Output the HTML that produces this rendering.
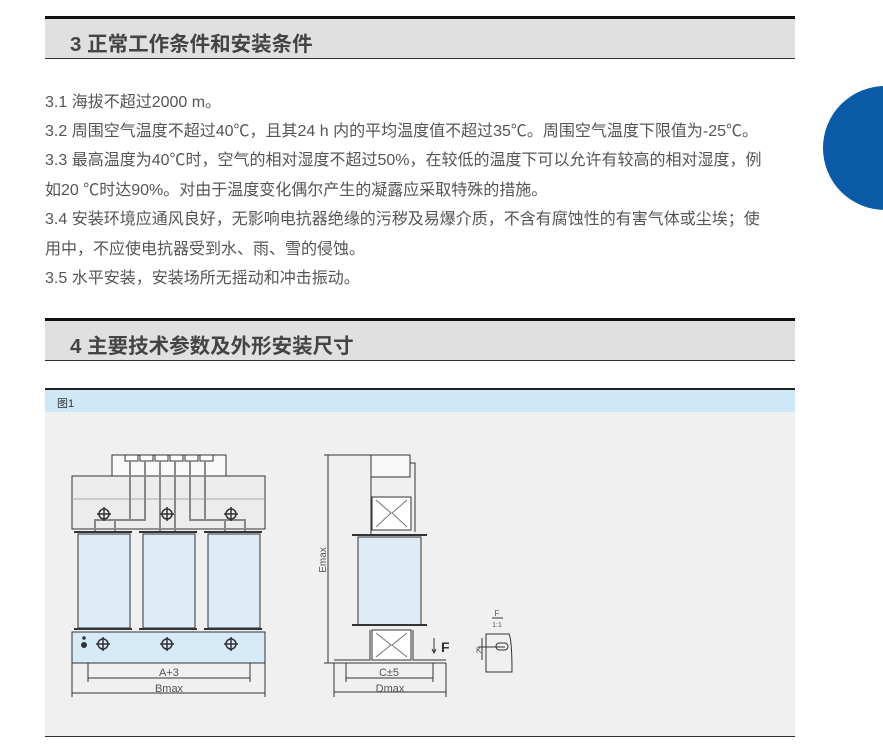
<!DOCTYPE html>
<html><head><meta charset="utf-8"><style>
body{margin:0;width:883px;height:745px;background:#fff;overflow:hidden;position:relative;font-family:"Liberation Sans","Noto Sans CJK SC",sans-serif}
.h{position:absolute;left:45px;width:750px;background:#e0e0e0;border-top:3px solid #111;border-bottom:1px solid #333;box-sizing:border-box}
.h span{position:absolute;left:25px;font-size:20.5px;font-weight:bold;color:#444}
.p{position:absolute;left:45px;font-size:16px;color:#555;white-space:nowrap}
</style></head><body>
<div class="h" style="top:16px;height:43px"><span style="top:8px">3 正常工作条件和安装条件</span></div>
<div class="p" style="top:88px">3.1 海拔不超过2000 m。</div>
<div class="p" style="top:117px">3.2 周围空气温度不超过40℃，且其24 h 内的平均温度值不超过35℃。周围空气温度下限值为-25℃。</div>
<div class="p" style="top:146px">3.3 最高温度为40℃时，空气的相对湿度不超过50%，在较低的温度下可以允许有较高的相对湿度，例</div>
<div class="p" style="top:176px">如20 ℃时达90%。对由于温度变化偶尔产生的凝露应采取特殊的措施。</div>
<div class="p" style="top:205px">3.4 安装环境应通风良好，无影响电抗器绝缘的污秽及易爆介质，不含有腐蚀性的有害气体或尘埃；使</div>
<div class="p" style="top:235px">用中，不应使电抗器受到水、雨、雪的侵蚀。</div>
<div class="p" style="top:264px">3.5 水平安装，安装场所无摇动和冲击振动。</div>
<div class="h" style="top:318px;height:43px"><span style="top:8px">4 主要技术参数及外形安装尺寸</span></div>
<div style="position:absolute;left:823px;top:86px;width:124px;height:124px;border-radius:50%;background:#0b5aa6"></div>
<div style="position:absolute;left:45px;top:388px;width:750px;height:24px;background:#cfe8f7;border-top:2px solid #222;box-sizing:border-box"><span style="position:absolute;left:12px;top:5px;font-size:11px;color:#333">图1</span></div>
<div style="position:absolute;left:45px;top:412px;width:750px;height:324px;background:#f0f0f0;border-bottom:1px solid #333"></div>
<svg style="position:absolute;left:0;top:0" width="883" height="745" font-family="Liberation Sans" stroke="#333" fill="none" stroke-width="1">
<rect x="112" y="455" width="114" height="21" fill="#f8f8f8"/>
<g fill="#fff"><rect x="125" y="455" width="13" height="6"/><rect x="140" y="455" width="13" height="6"/><rect x="155" y="455" width="13" height="6"/><rect x="170" y="455" width="13" height="6"/><rect x="185" y="455" width="13" height="6"/><rect x="200" y="455" width="13" height="6"/></g>
<rect x="72" y="476" width="193" height="53" fill="#ececec"/>
<line x1="72" y1="499" x2="265" y2="499" stroke="#aaa"/>
<g stroke="#888" stroke-width="2"><path d="M130 461V520H95V532M145 461V520H115V532M160 461V532M175 461V532M190 461V520H225V532M205 461V520H245V532"/></g>
<g fill="#dcebf5"><rect x="78" y="534" width="52" height="94"/><rect x="143" y="534" width="52" height="94"/><rect x="208" y="534" width="52" height="94"/></g>
<g stroke="#333" stroke-width="2"><path d="M74 532H132M139 532H197M204 532H262M74 629H132M139 629H197M204 629H262"/></g>
<rect x="72" y="632" width="193" height="31" fill="#d6eaf8"/>
<g stroke-width="1.5"><circle cx="103" cy="644" r="5"/><circle cx="167" cy="644" r="5"/><circle cx="231" cy="644" r="5"/><circle cx="104" cy="514" r="5"/><circle cx="167" cy="514" r="5"/><circle cx="231" cy="514" r="5"/>
<path d="M96 644h14M103 637v14M160 644h14M167 637v14M224 644h14M231 637v14M97 514h14M104 507v14M160 514h14M167 507v14M224 514h14M231 507v14"/></g>
<circle cx="84" cy="645" r="2.5" fill="#333"/><circle cx="84" cy="638" r="1.3" fill="#333"/>
<path d="M88 663V682M250 663V682M88 678H250M72 663V697M265 663V697M72 693H265"/>
<text x="169" y="676" font-size="11" fill="#555" stroke="none" text-anchor="middle">A+3</text>
<text x="169" y="692" font-size="11" fill="#555" stroke="none" text-anchor="middle">Bmax</text>
<path d="M324 455H371M328 455V663M324 663H340"/>
<text x="326" y="560" font-size="10" fill="#555" stroke="none" transform="rotate(-90 326 560)" text-anchor="middle">Emax</text>
<rect x="371" y="455" width="39" height="22" fill="#f8f8f8"/>
<path d="M410 463H415V532M371 477V536"/>
<rect x="372" y="497" width="39" height="33" fill="#fff"/>
<path d="M376 500L391 513L376 527M407 500L392 513L407 527" stroke="#777"/>
<rect x="358" y="537" width="63" height="88" fill="#dcebf5"/>
<path d="M352 535H427M352 625H427" stroke-width="2"/>
<rect x="372" y="630" width="39" height="30" fill="#fff"/>
<path d="M376 633L391 645L376 657M407 633L392 645L407 657" stroke="#777"/>
<path d="M334 663H446M334 660H370V630M446 660H413V630"/>
<path d="M346 663V682M433 663V682M346 678H433M334 663V697M446 663V697M334 692H446"/>
<text x="389" y="676" font-size="11" fill="#555" stroke="none" text-anchor="middle">C±5</text>
<text x="390" y="692" font-size="11" fill="#555" stroke="none" text-anchor="middle">Dmax</text>
<path d="M434 638V652M432 649L434 653L436 649"/>
<text x="441" y="652" font-size="14" font-weight="bold" fill="#333" stroke="none">F</text>
<text x="497" y="616" font-size="8" fill="#555" stroke="none" text-anchor="middle">F</text>
<path d="M492 618H503"/><text x="497" y="627" font-size="7" fill="#555" stroke="none" text-anchor="middle">1:1</text>
<path d="M486 634H509Q512 640 512 672H486Z M482 638V660M478 647H505"/>
<rect x="496" y="643" width="12" height="7" rx="3.5"/>
<text x="476" y="653" font-size="8" fill="#555" stroke="none">K</text>
</svg>
</body></html>
